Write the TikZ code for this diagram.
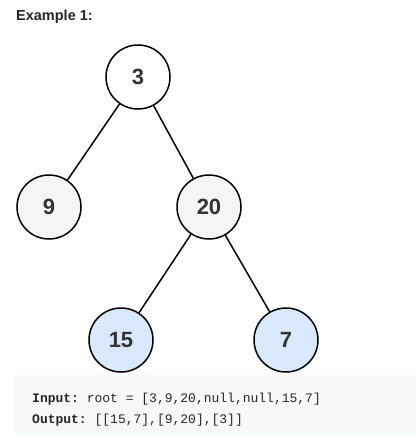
\documentclass[tikz,border=0pt]{standalone}
\usepackage{fontspec}
\setmainfont{Liberation Sans}
\setmonofont{Liberation Mono}
\usetikzlibrary{positioning}
\definecolor{plain}{HTML}{FFFFFF}
\definecolor{mid}{HTML}{F5F5F5}
\definecolor{leaf}{HTML}{DAE8FC}
\definecolor{codebg}{HTML}{F7F8FA}
\definecolor{ink}{HTML}{262626}
\definecolor{codeink}{HTML}{262626}
\begin{document}
\begin{tikzpicture}[x=1pt,y=-1pt,
  treenode/.style={circle, draw=black, line width=1.5pt, minimum size=64pt, inner sep=0pt, font=\fontsize{22}{24}\selectfont\bfseries, text=black!80},
  treeedge/.style={line width=1.5pt, black},
  codeline/.style={font=\ttfamily\fontsize{13}{15}\selectfont, text=codeink, anchor=base west, inner sep=0pt}]
\useasboundingbox (0,0) rectangle (416,437);
\node[font=\fontsize{14.5}{16}\selectfont\bfseries, text=ink, anchor=base west, inner sep=0pt] (title) at (16,20) {Example 1:};
% tree
\node[treenode, fill=plain] (n3) at (138,77) {3};
\node[treenode, fill=mid] (n9) at (49,207) {9};
\node[treenode, fill=mid] (n20) at (209,207) {20};
\node[treenode, fill=leaf] (n15) at (121,340) {15};
\node[treenode, fill=leaf] (n7) at (286,340) {7};
\draw[treeedge] (n3) -- (n9);
\draw[treeedge] (n3) -- (n20);
\draw[treeedge] (n20) -- (n15);
\draw[treeedge] (n20) -- (n7);
% example box
\fill[codebg] (15,375) rectangle (416,435);
\node[codeline] (inp) at (32,402) {\textbf{Input:} root = [3,9,20,null,null,15,7]};
\node[codeline] (outp) at (32,423) {\textbf{Output:} [[15,7],[9,20],[3]]};
\end{tikzpicture}
\end{document}
